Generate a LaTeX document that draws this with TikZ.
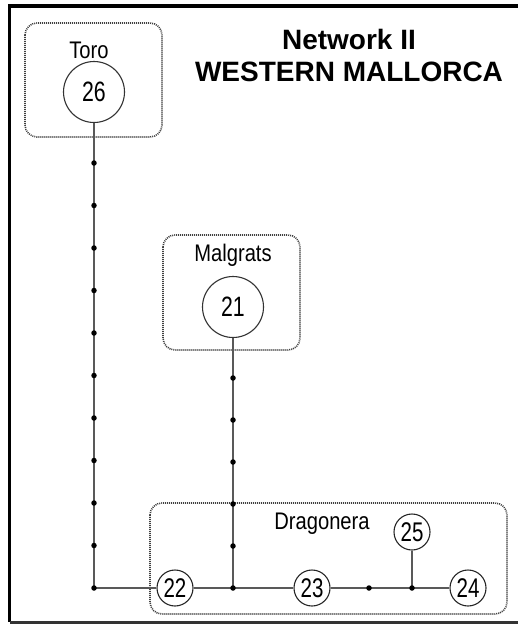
\documentclass[tikz,border=0pt]{standalone}
\usepackage{fontspec}
\setmainfont{Liberation Sans}
\newfontfamily\labfont[FakeStretch=0.84]{Liberation Sans}
\newfontfamily\numfont[FakeStretch=0.76]{Liberation Sans}
\begin{document}
\begin{tikzpicture}[x=1pt,y=-1pt,
  bigcirc/.style={circle,draw=black!80,line width=1.1pt,minimum size=61pt,inner sep=0pt,fill=white,font=\numfont\fontsize{28}{28}\selectfont},
  smallcirc/.style={circle,draw=black!85,line width=1.1pt,minimum size=36pt,inner sep=0pt,fill=white,font=\numfont\fontsize{27}{27}\selectfont},
  groupbox/.style={draw=black!75,line width=1.6pt,dash pattern=on 1pt off 1pt,rounded corners=12pt},
  lab/.style={font=\labfont\fontsize{24}{24}\selectfont,inner sep=0pt},
  link/.style={draw=black!65,line width=1.3pt},
  dot/.style={circle,fill=black,inner sep=0pt,minimum size=5.5pt}]
\useasboundingbox (0,0) rectangle (518,624);
% frame
\draw[line width=3.5pt,black] (518,6) -- (9.5,6) -- (9.5,622);
\draw[line width=3pt,black!80] (9.5,622) -- (518,622);
% title
\node[font=\bfseries\fontsize{28}{28}\selectfont,align=center,inner sep=0pt] (title) at (349,55) {Network II\\[4pt]WESTERN MALLORCA};
% group boxes
\draw[groupbox] (25,23) rectangle (162,137);
\draw[groupbox] (163,235) rectangle (300,350);
\draw[groupbox] (150,503) rectangle (507,614);
\node[lab] (ltoro) at (89,50) {Toro};
\node[lab] (lmal) at (233,255) {Malgrats};
\node[lab] (ldrag) at (322,524) {Dragonera};
% coordinates
\coordinate (c0) at (94,588);
\coordinate (c1) at (233,588);
\coordinate (d1) at (369,588);
\coordinate (d2) at (412,588);
% circles
\node[bigcirc] (n26) at (94,92) {26};
\node[bigcirc] (n21) at (233,307) {21};
\node[smallcirc] (n22) at (175,588) {22};
\node[smallcirc] (n23) at (312,588) {23};
\node[smallcirc] (n24) at (468,588) {24};
\node[smallcirc] (n25) at (412,532) {25};
% links
\draw[link] (n26) -- (c0) -- (n22);
\draw[link] (n22) -- (c1) -- (n23);
\draw[link] (n23) -- (d1) -- (d2) -- (n24);
\draw[link] (n25) -- (d2);
\draw[link] (n21) -- (c1);
% dots
\foreach \i in {0,...,10} \node[dot] (a\i) at (94,{163+42.5*\i}) {};
\foreach \i in {0,...,5} \node[dot] (b\i) at (233,{378+42*\i}) {};
\node[dot] (e1) at (d1) {};
\node[dot] (e2) at (d2) {};
\end{tikzpicture}
\end{document}
